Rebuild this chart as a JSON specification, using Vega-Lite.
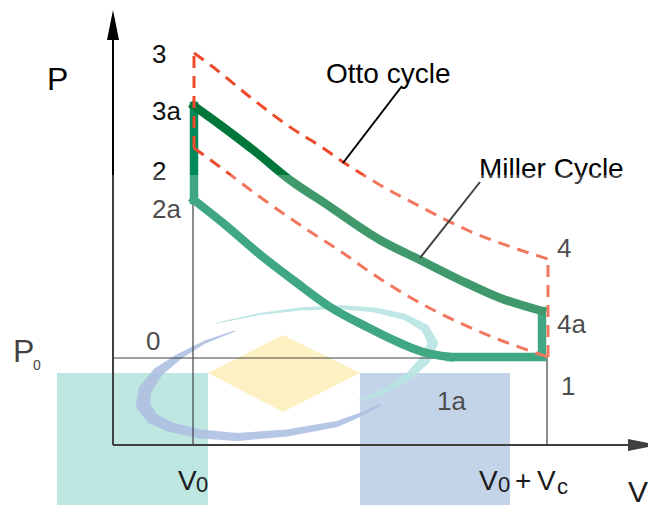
{
  "$schema": "https://vega.github.io/schema/vega-lite/v6.json",
  "width": 648,
  "height": 505,
  "padding": 0,
  "autosize": "none",
  "background": "white",
  "config": {"view": {"stroke": null}},
  "datasets": {
    "rects": [
      {"k": "teal", "x": -56, "x2": 95, "y": 72, "y2": -60},
      {"k": "blue", "x": 247, "x2": 397, "y": 72, "y2": -60}
    ],
    "diamond": [
      {"x": 95, "y": 72, "y2": 72},
      {"x": 170, "y": 110, "y2": 33},
      {"x": 247, "y": 72, "y2": 72}
    ],
    "swooshTeal": [
      {"o": 1, "x": 247, "y": 45, "s": 2},
      {"o": 2, "x": 274, "y": 55, "s": 5},
      {"o": 3, "x": 297, "y": 70, "s": 8},
      {"o": 4, "x": 312, "y": 85, "s": 10},
      {"o": 5, "x": 320, "y": 102, "s": 10},
      {"o": 6, "x": 312, "y": 117, "s": 8},
      {"o": 7, "x": 292, "y": 128, "s": 6},
      {"o": 8, "x": 262, "y": 135, "s": 5},
      {"o": 9, "x": 227, "y": 138, "s": 4},
      {"o": 10, "x": 187, "y": 136, "s": 3},
      {"o": 11, "x": 147, "y": 131, "s": 2},
      {"o": 12, "x": 104, "y": 122, "s": 1}
    ],
    "swooshBlue": [
      {"o": 1, "x": 122, "y": 114, "s": 1},
      {"o": 2, "x": 92, "y": 103, "s": 3},
      {"o": 3, "x": 67, "y": 89, "s": 6},
      {"o": 4, "x": 45, "y": 73, "s": 10},
      {"o": 5, "x": 32, "y": 55, "s": 13},
      {"o": 6, "x": 30, "y": 40, "s": 14},
      {"o": 7, "x": 39, "y": 27, "s": 12},
      {"o": 8, "x": 57, "y": 18, "s": 10},
      {"o": 9, "x": 87, "y": 11, "s": 9},
      {"o": 10, "x": 124, "y": 8, "s": 8},
      {"o": 11, "x": 174, "y": 12, "s": 7},
      {"o": 12, "x": 224, "y": 21, "s": 6},
      {"o": 13, "x": 249, "y": 31, "s": 4},
      {"o": 14, "x": 267, "y": 40, "s": 2}
    ],
    "axes": [
      {"x": 0, "y": 0, "x2": 0, "y2": 405},
      {"x": 0, "y": 0, "x2": 515, "y2": 0}
    ],
    "guides": [
      {"x": 0, "y": 87, "x2": 337, "y2": 87},
      {"x": 80, "y": 245, "x2": 80, "y2": 0},
      {"x": 434, "y": 88, "x2": 434, "y2": 0}
    ],
    "pointers": [
      {"x": 289, "y": 359, "x2": 230, "y2": 282},
      {"x": 367, "y": 263, "x2": 307, "y2": 187}
    ],
    "ottoCurves": [
      {"c": "exp", "x": 81, "y": 392},
      {"c": "exp", "x": 100, "y": 378},
      {"c": "exp", "x": 137, "y": 348},
      {"c": "exp", "x": 174, "y": 320},
      {"c": "exp", "x": 210, "y": 297},
      {"c": "exp", "x": 230, "y": 283},
      {"c": "exp", "x": 267, "y": 260},
      {"c": "exp", "x": 310, "y": 237},
      {"c": "exp", "x": 354, "y": 215},
      {"c": "exp", "x": 407, "y": 195},
      {"c": "exp", "x": 435, "y": 186},
      {"c": "comp", "x": 81, "y": 297},
      {"c": "comp", "x": 107, "y": 278},
      {"c": "comp", "x": 147, "y": 248},
      {"c": "comp", "x": 190, "y": 218},
      {"c": "comp", "x": 230, "y": 192},
      {"c": "comp", "x": 254, "y": 175},
      {"c": "comp", "x": 300, "y": 146},
      {"c": "comp", "x": 347, "y": 122},
      {"c": "comp", "x": 387, "y": 105},
      {"c": "comp", "x": 435, "y": 88}
    ],
    "ottoVerticals": [
      {"x": 81, "y": 297, "y2": 392},
      {"x": 435, "y": 88, "y2": 186}
    ],
    "millerExp": [
      {"x": 81, "y": 339},
      {"x": 110, "y": 318},
      {"x": 144, "y": 292},
      {"x": 177, "y": 265},
      {"x": 210, "y": 243},
      {"x": 267, "y": 205},
      {"x": 307, "y": 185},
      {"x": 347, "y": 165},
      {"x": 387, "y": 147},
      {"x": 429, "y": 134}
    ],
    "millerComp": [
      {"x": 81, "y": 245},
      {"x": 110, "y": 222},
      {"x": 150, "y": 188},
      {"x": 184, "y": 162},
      {"x": 217, "y": 138},
      {"x": 254, "y": 118},
      {"x": 287, "y": 102},
      {"x": 310, "y": 93},
      {"x": 337, "y": 88}
    ],
    "millerEdges": [
      {"s": "a", "o": 1, "x": 429, "y": 134},
      {"s": "a", "o": 2, "x": 429, "y": 88},
      {"s": "a", "o": 3, "x": 337, "y": 88},
      {"s": "b", "o": 1, "x": 81, "y": 245},
      {"s": "b", "o": 2, "x": 81, "y": 339}
    ],
    "overlay": [{"x": -113, "x2": 535, "y": 270, "y2": -60}],
    "labels26": [
      {"t": "3", "x": 39, "y": 382},
      {"t": "3a", "x": 39, "y": 325},
      {"t": "2", "x": 39, "y": 265},
      {"t": "2a", "x": 39, "y": 227},
      {"t": "4", "x": 444, "y": 188},
      {"t": "4a", "x": 444, "y": 112},
      {"t": "1", "x": 448, "y": 50},
      {"t": "1a", "x": 324, "y": 35},
      {"t": "0", "x": 33, "y": 95}
    ],
    "labels28": [
      {"t": "Otto cycle", "x": 213, "y": 362},
      {"t": "Miller Cycle", "x": 366, "y": 267}
    ],
    "labels32": [
      {"t": "P", "x": -66, "y": 355},
      {"t": "P", "x": -100, "y": 83}
    ],
    "labels14": [
      {"t": "0", "x": -80, "y": 75}
    ],
    "vLabels28": [
      {"t": "V", "x": 65, "y": -45},
      {"t": "V", "x": 366, "y": -45},
      {"t": "+", "x": 402, "y": -45},
      {"t": "V", "x": 424, "y": -45}
    ],
    "vLabels22": [
      {"t": "0", "x": 83, "y": -47},
      {"t": "0", "x": 385, "y": -47},
      {"t": "c", "x": 444, "y": -49}
    ],
    "vLabels30": [
      {"t": "V", "x": 515, "y": -57}
    ],
    "arrowUp": [{"x": 0, "y": 420}],
    "arrowRight": [{"x": 530, "y": 0}]
  },
  "layer": [
    {
      "data": {"name": "rects"},
      "mark": {"type": "rect"},
      "encoding": {
        "x": {"field": "x", "type": "quantitative", "scale": {"domain": [-113, 535], "nice": false, "zero": false}, "axis": null},
        "x2": {"field": "x2"},
        "y": {"field": "y", "type": "quantitative", "scale": {"domain": [-60, 445], "nice": false, "zero": false}, "axis": null},
        "y2": {"field": "y2"},
        "color": {"field": "k", "type": "nominal", "scale": {"domain": ["teal", "blue"], "range": ["#a9dfd9", "#afc4e1"]}, "legend": null}
      }
    },
    {
      "data": {"name": "diamond"},
      "mark": {"type": "area", "color": "#fcebaf", "opacity": 1},
      "encoding": {
        "x": {"field": "x", "type": "quantitative", "scale": {"domain": [-113, 535], "nice": false, "zero": false}, "axis": null},
        "y": {"field": "y", "type": "quantitative", "scale": {"domain": [-60, 445], "nice": false, "zero": false}, "axis": null},
        "y2": {"field": "y2"}
      }
    },
    {
      "data": {"name": "swooshTeal"},
      "mark": {"type": "trail", "color": "#a0dbd8", "opacity": 0.9},
      "encoding": {
        "x": {"field": "x", "type": "quantitative", "scale": {"domain": [-113, 535], "nice": false, "zero": false}, "axis": null},
        "y": {"field": "y", "type": "quantitative", "scale": {"domain": [-60, 445], "nice": false, "zero": false}, "axis": null},
        "size": {"field": "s", "type": "quantitative", "scale": null, "legend": null},
        "order": {"field": "o", "type": "quantitative"}
      }
    },
    {
      "data": {"name": "swooshBlue"},
      "mark": {"type": "trail", "color": "#93abd8", "opacity": 0.9},
      "encoding": {
        "x": {"field": "x", "type": "quantitative", "scale": {"domain": [-113, 535], "nice": false, "zero": false}, "axis": null},
        "y": {"field": "y", "type": "quantitative", "scale": {"domain": [-60, 445], "nice": false, "zero": false}, "axis": null},
        "size": {"field": "s", "type": "quantitative", "scale": null, "legend": null},
        "order": {"field": "o", "type": "quantitative"}
      }
    },
    {
      "data": {"name": "axes"},
      "mark": {"type": "rule", "color": "#000000", "strokeWidth": 2},
      "encoding": {
        "x": {"field": "x", "type": "quantitative", "scale": {"domain": [-113, 535], "nice": false, "zero": false}, "axis": null},
        "x2": {"field": "x2"},
        "y": {"field": "y", "type": "quantitative", "scale": {"domain": [-60, 445], "nice": false, "zero": false}, "axis": null},
        "y2": {"field": "y2"}
      }
    },
    {
      "data": {"name": "arrowUp"},
      "mark": {"type": "point", "shape": "M0,-1L-0.4,1L0.4,1Z", "size": 900, "filled": true, "color": "#000000", "opacity": 1},
      "encoding": {
        "x": {"field": "x", "type": "quantitative", "scale": {"domain": [-113, 535], "nice": false, "zero": false}, "axis": null},
        "y": {"field": "y", "type": "quantitative", "scale": {"domain": [-60, 445], "nice": false, "zero": false}, "axis": null}
      }
    },
    {
      "data": {"name": "arrowRight"},
      "mark": {"type": "point", "shape": "M1,0L-1,-0.4L-1,0.4Z", "size": 900, "filled": true, "color": "#000000", "opacity": 1},
      "encoding": {
        "x": {"field": "x", "type": "quantitative", "scale": {"domain": [-113, 535], "nice": false, "zero": false}, "axis": null},
        "y": {"field": "y", "type": "quantitative", "scale": {"domain": [-60, 445], "nice": false, "zero": false}, "axis": null}
      }
    },
    {
      "data": {"name": "guides"},
      "mark": {"type": "rule", "color": "#000000", "strokeWidth": 1.2},
      "encoding": {
        "x": {"field": "x", "type": "quantitative", "scale": {"domain": [-113, 535], "nice": false, "zero": false}, "axis": null},
        "x2": {"field": "x2"},
        "y": {"field": "y", "type": "quantitative", "scale": {"domain": [-60, 445], "nice": false, "zero": false}, "axis": null},
        "y2": {"field": "y2"}
      }
    },
    {
      "data": {"name": "millerComp"},
      "mark": {"type": "line", "color": "#008a5a", "strokeWidth": 8.5, "interpolate": "monotone", "strokeCap": "square"},
      "encoding": {
        "x": {"field": "x", "type": "quantitative", "scale": {"domain": [-113, 535], "nice": false, "zero": false}, "axis": null},
        "y": {"field": "y", "type": "quantitative", "scale": {"domain": [-60, 445], "nice": false, "zero": false}, "axis": null}
      }
    },
    {
      "data": {"name": "millerEdges"},
      "mark": {"type": "line", "color": "#008a5a", "strokeWidth": 8.5, "strokeJoin": "miter", "strokeCap": "square"},
      "encoding": {
        "x": {"field": "x", "type": "quantitative", "scale": {"domain": [-113, 535], "nice": false, "zero": false}, "axis": null},
        "y": {"field": "y", "type": "quantitative", "scale": {"domain": [-60, 445], "nice": false, "zero": false}, "axis": null},
        "detail": {"field": "s", "type": "nominal"},
        "order": {"field": "o", "type": "quantitative"}
      }
    },
    {
      "data": {"name": "millerExp"},
      "mark": {"type": "line", "color": "#00773a", "strokeWidth": 8.5, "interpolate": "monotone", "strokeCap": "square"},
      "encoding": {
        "x": {"field": "x", "type": "quantitative", "scale": {"domain": [-113, 535], "nice": false, "zero": false}, "axis": null},
        "y": {"field": "y", "type": "quantitative", "scale": {"domain": [-60, 445], "nice": false, "zero": false}, "axis": null}
      }
    },
    {
      "data": {"name": "ottoCurves"},
      "mark": {"type": "line", "color": "#ee4a2a", "strokeWidth": 3, "strokeDash": [12, 8], "interpolate": "monotone"},
      "encoding": {
        "x": {"field": "x", "type": "quantitative", "scale": {"domain": [-113, 535], "nice": false, "zero": false}, "axis": null},
        "y": {"field": "y", "type": "quantitative", "scale": {"domain": [-60, 445], "nice": false, "zero": false}, "axis": null},
        "detail": {"field": "c", "type": "nominal"}
      }
    },
    {
      "data": {"name": "ottoVerticals"},
      "mark": {"type": "rule", "color": "#ee4a2a", "strokeWidth": 3, "strokeDash": [12, 8]},
      "encoding": {
        "x": {"field": "x", "type": "quantitative", "scale": {"domain": [-113, 535], "nice": false, "zero": false}, "axis": null},
        "y": {"field": "y", "type": "quantitative", "scale": {"domain": [-60, 445], "nice": false, "zero": false}, "axis": null},
        "y2": {"field": "y2"}
      }
    },
    {
      "data": {"name": "pointers"},
      "mark": {"type": "rule", "color": "#000000", "strokeWidth": 2},
      "encoding": {
        "x": {"field": "x", "type": "quantitative", "scale": {"domain": [-113, 535], "nice": false, "zero": false}, "axis": null},
        "x2": {"field": "x2"},
        "y": {"field": "y", "type": "quantitative", "scale": {"domain": [-60, 445], "nice": false, "zero": false}, "axis": null},
        "y2": {"field": "y2"}
      }
    },
    {
      "data": {"name": "labels26"},
      "mark": {"type": "text", "align": "left", "baseline": "alphabetic", "font": "Liberation Sans", "fontSize": 26, "color": "#111111"},
      "encoding": {
        "x": {"field": "x", "type": "quantitative", "scale": {"domain": [-113, 535], "nice": false, "zero": false}, "axis": null},
        "y": {"field": "y", "type": "quantitative", "scale": {"domain": [-60, 445], "nice": false, "zero": false}, "axis": null},
        "text": {"field": "t"}
      }
    },
    {
      "data": {"name": "labels28"},
      "mark": {"type": "text", "align": "left", "baseline": "alphabetic", "font": "Liberation Sans", "fontSize": 28, "color": "#000000"},
      "encoding": {
        "x": {"field": "x", "type": "quantitative", "scale": {"domain": [-113, 535], "nice": false, "zero": false}, "axis": null},
        "y": {"field": "y", "type": "quantitative", "scale": {"domain": [-60, 445], "nice": false, "zero": false}, "axis": null},
        "text": {"field": "t"}
      }
    },
    {
      "data": {"name": "labels32"},
      "mark": {"type": "text", "align": "left", "baseline": "alphabetic", "font": "Liberation Sans", "fontSize": 32, "color": "#000000"},
      "encoding": {
        "x": {"field": "x", "type": "quantitative", "scale": {"domain": [-113, 535], "nice": false, "zero": false}, "axis": null},
        "y": {"field": "y", "type": "quantitative", "scale": {"domain": [-60, 445], "nice": false, "zero": false}, "axis": null},
        "text": {"field": "t"}
      }
    },
    {
      "data": {"name": "labels14"},
      "mark": {"type": "text", "align": "left", "baseline": "alphabetic", "font": "Liberation Sans", "fontSize": 14, "color": "#000000"},
      "encoding": {
        "x": {"field": "x", "type": "quantitative", "scale": {"domain": [-113, 535], "nice": false, "zero": false}, "axis": null},
        "y": {"field": "y", "type": "quantitative", "scale": {"domain": [-60, 445], "nice": false, "zero": false}, "axis": null},
        "text": {"field": "t"}
      }
    },
    {
      "data": {"name": "overlay"},
      "mark": {"type": "rect", "color": "#ffffff", "opacity": 0.25},
      "encoding": {
        "x": {"field": "x", "type": "quantitative", "scale": {"domain": [-113, 535], "nice": false, "zero": false}, "axis": null},
        "x2": {"field": "x2"},
        "y": {"field": "y", "type": "quantitative", "scale": {"domain": [-60, 445], "nice": false, "zero": false}, "axis": null},
        "y2": {"field": "y2"}
      }
    },
    {
      "data": {"name": "vLabels28"},
      "mark": {"type": "text", "align": "left", "baseline": "alphabetic", "font": "Liberation Sans", "fontSize": 28, "color": "#1a1a1a"},
      "encoding": {
        "x": {"field": "x", "type": "quantitative", "scale": {"domain": [-113, 535], "nice": false, "zero": false}, "axis": null},
        "y": {"field": "y", "type": "quantitative", "scale": {"domain": [-60, 445], "nice": false, "zero": false}, "axis": null},
        "text": {"field": "t"}
      }
    },
    {
      "data": {"name": "vLabels22"},
      "mark": {"type": "text", "align": "left", "baseline": "alphabetic", "font": "Liberation Sans", "fontSize": 22, "color": "#1a1a1a"},
      "encoding": {
        "x": {"field": "x", "type": "quantitative", "scale": {"domain": [-113, 535], "nice": false, "zero": false}, "axis": null},
        "y": {"field": "y", "type": "quantitative", "scale": {"domain": [-60, 445], "nice": false, "zero": false}, "axis": null},
        "text": {"field": "t"}
      }
    },
    {
      "data": {"name": "vLabels30"},
      "mark": {"type": "text", "align": "left", "baseline": "alphabetic", "font": "Liberation Sans", "fontSize": 30, "color": "#1a1a1a"},
      "encoding": {
        "x": {"field": "x", "type": "quantitative", "scale": {"domain": [-113, 535], "nice": false, "zero": false}, "axis": null},
        "y": {"field": "y", "type": "quantitative", "scale": {"domain": [-60, 445], "nice": false, "zero": false}, "axis": null},
        "text": {"field": "t"}
      }
    }
  ]
}
